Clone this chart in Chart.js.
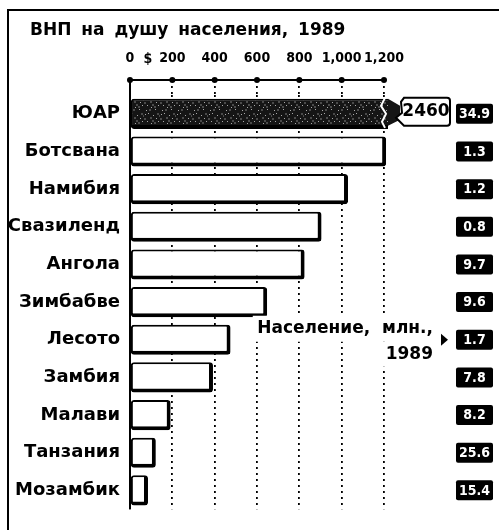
<!DOCTYPE html>
<html>
<head>
<meta charset="utf-8">
<script src="https://cdn.jsdelivr.net/npm/chart.js@4"></script>
<style>
  html, body { margin: 0; padding: 0; background: #fff; }
  #wrap { width: 499px; height: 530px; }
</style>
</head>
<body>
<div id="wrap"><canvas id="myChart"></canvas></div>
<script>
const titleText = "ВНП на душу населения, 1989";
const countries = ["ЮАР", "Ботсвана", "Намибия", "Свазиленд", "Ангола", "Зимбабве", "Лесото", "Замбия", "Малави", "Танзания", "Мозамбик"];
const gnpPerCapita = [2460, 1210, 1030, 905, 825, 648, 475, 392, 192, 122, 85];
const population = [34.9, 1.3, 1.2, 0.8, 9.7, 9.6, 1.7, 7.8, 8.2, 25.6, 15.4];
const xTicks = [0, 200, 400, 600, 800, 1000, 1200];
const popNote = ["Население,  млн.,", "1989"];

const narrow = "'DejaVu Sans Condensed', 'Liberation Sans Narrow', 'DejaVu Sans', sans-serif";
const bold = "'DejaVu Sans', sans-serif";

// speckled dark fill for the first bar
function speckle() {
  const c = document.createElement("canvas");
  c.width = 16; c.height = 16;
  const g = c.getContext("2d");
  g.fillStyle = "#151515";
  g.fillRect(0, 0, 16, 16);
  const light = [[1,2],[4,1],[9,3],[12,6],[3,9],[7,11],[11,13],[14,9],[2,14]];
  const mid = [[6,5],[13,1],[8,8],[5,13],[0,6],[10,10],[15,3]];
  g.fillStyle = "#a8a8a8";
  light.forEach(([x, y]) => g.fillRect(x, y, 1, 1));
  g.fillStyle = "#4a4a4a";
  mid.forEach(([x, y]) => g.fillRect(x, y, 2, 2));
  return g.createPattern(c, "repeat");
}

const ctx = document.getElementById("myChart").getContext("2d");
const fills = countries.map((_, i) => (i === 0 ? speckle() : "#ffffff"));

const decor = {
  id: "decor",
  afterDatasetsDraw(chart) {
    const { ctx, chartArea: a, scales: { x, y } } = chart;
    ctx.save();
    ctx.fillStyle = "#000";
    ctx.strokeStyle = "#000";

    // frame
    ctx.lineWidth = 2;
    ctx.beginPath();
    ctx.moveTo(8, chart.height);
    ctx.lineTo(8, 10);
    ctx.lineTo(chart.width, 10);
    ctx.stroke();

    // title
    ctx.font = "bold 17px " + bold;
    ctx.textAlign = "left";
    ctx.textBaseline = "middle";
    ctx.wordSpacing = "4px";
    ctx.fillText(titleText, 30, 31);
    ctx.wordSpacing = "0px";

    // axis line with dots, left rule
    const ay = a.top - 15;
    ctx.beginPath();
    ctx.moveTo(x.getPixelForValue(0), ay);
    ctx.lineTo(x.getPixelForValue(xTicks[xTicks.length - 1]), ay);
    ctx.moveTo(a.left, ay);
    ctx.lineTo(a.left, a.bottom);
    ctx.stroke();
    xTicks.forEach((t) => {
      ctx.beginPath();
      ctx.arc(x.getPixelForValue(t), ay, 3, 0, Math.PI * 2);
      ctx.fill();
    });
    ctx.font = "bold 14px " + narrow;
    ctx.textAlign = "center";
    ctx.fillText("$", x.getPixelForValue(0) + 18, ay - 21);

    // broken-scale label for first bar
    const yc = y.getPixelForValue(0) - 2;
    const bx = a.right + 16;
    ctx.strokeStyle = "#fff";
    ctx.lineWidth = 2;
    ctx.beginPath();
    ctx.moveTo(a.right + 1, yc - 14);
    ctx.lineTo(a.right - 3, yc - 6);
    ctx.lineTo(a.right + 2, yc + 2);
    ctx.lineTo(a.right - 2, yc + 10);
    ctx.lineTo(a.right + 1, yc + 16);
    ctx.stroke();
    ctx.fillStyle = "#151515";
    ctx.beginPath();
    ctx.moveTo(a.right + 4, yc - 13);
    ctx.lineTo(bx, yc - 6);
    ctx.lineTo(bx, yc + 8);
    ctx.lineTo(a.right + 4, yc + 14);
    ctx.closePath();
    ctx.fill();
    ctx.fillStyle = "#fff";
    ctx.strokeStyle = "#000";
    ctx.lineWidth = 2;
    ctx.beginPath();
    ctx.moveTo(bx + 4, yc - 14);
    ctx.lineTo(bx + 47, yc - 14);
    ctx.quadraticCurveTo(bx + 50, yc - 14, bx + 50, yc - 11);
    ctx.lineTo(bx + 50, yc + 11);
    ctx.quadraticCurveTo(bx + 50, yc + 14, bx + 47, yc + 14);
    ctx.lineTo(bx + 4, yc + 14);
    ctx.lineTo(bx - 4, yc + 6);
    ctx.lineTo(bx + 2, yc + 1);
    ctx.lineTo(bx + 1, yc - 10);
    ctx.closePath();
    ctx.fill();
    ctx.stroke();
    ctx.fillStyle = "#000";
    ctx.font = "bold 17px " + bold;
    ctx.textAlign = "center";
    ctx.fillText(gnpPerCapita[0], bx + 26, yc);

    // population boxes
    ctx.font = "bold 14px " + narrow;
    population.forEach((p, i) => {
      const py = y.getPixelForValue(i);
      ctx.fillStyle = "#000";
      ctx.beginPath();
      ctx.roundRect(a.right + 72, py - 10, 37, 20, 2);
      ctx.fill();
      ctx.fillStyle = "#fff";
      ctx.fillText(p.toFixed(1), a.right + 90.5, py + 0.5);
    });

    // population note
    const ny = y.getPixelForValue(6);
    const nx = a.right + 49;
    const nLeft = x.getPixelForValue(580);
    ctx.fillStyle = "#fff";
    ctx.fillRect(nLeft, ny - 24, nx - nLeft + 3, 26);
    ctx.fillRect(nx - 52, ny + 2, 55, 25);
    ctx.fillStyle = "#000";
    ctx.font = "bold 17px " + bold;
    ctx.textAlign = "right";
    ctx.fillText(popNote[0], nx, ny - 11);
    ctx.fillText(popNote[1], nx, ny + 15);
    ctx.beginPath();
    ctx.moveTo(nx + 8, ny - 6);
    ctx.lineTo(nx + 15, ny);
    ctx.lineTo(nx + 8, ny + 6);
    ctx.closePath();
    ctx.fill();
    ctx.restore();
  },
};

new Chart(ctx, {
  type: "bar",
  data: {
    labels: countries,
    datasets: [
      {
        data: gnpPerCapita,
        backgroundColor: fills,
        borderColor: "#000",
        borderWidth: { top: 2, left: 2, right: 4, bottom: 4 },
        borderSkipped: false,
        borderRadius: 3,
        barPercentage: 0.8,
        categoryPercentage: 1,
        clip: { left: 6, top: 6, right: 4, bottom: 6 },
      },
    ],
  },
  options: {
    indexAxis: "y",
    responsive: true,
    maintainAspectRatio: false,
    animation: false,
    layout: { padding: { left: 4, right: 115, top: 0, bottom: 2 } },
    plugins: {
      legend: { display: false },
      tooltip: { enabled: false },
    },
    scales: {
      x: {
        position: "top",
        min: 0,
        max: 1200,
        afterFit: (s) => { s.height = 95; },
        afterBuildTicks: (s) => { s.ticks = xTicks.map((v) => ({ value: v })); },
        border: { display: false, dash: [2, 4] },
        grid: {
          color: "#000",
          lineWidth: 1.8,
          tickLength: 15,
          tickColor: "#000",
          tickWidth: 1.8,
          tickBorderDash: [2, 4],
        },
        ticks: {
          padding: 13,
          color: "#000",
          autoSkip: false,
          maxRotation: 0,
          minRotation: 0,
          callback: (v) => v.toLocaleString("en-US"),
          font: { family: narrow, size: 14, weight: "bold" },
        },
      },
      y: {
        afterFit: (s) => { s.width = 126; },
        border: { display: false },
        grid: { display: false, drawTicks: false },
        ticks: {
          padding: 10,
          color: "#000",
          font: { family: bold, size: 18, weight: "bold" },
        },
      },
    },
  },
  plugins: [decor],
});
</script>
</body>
</html>
